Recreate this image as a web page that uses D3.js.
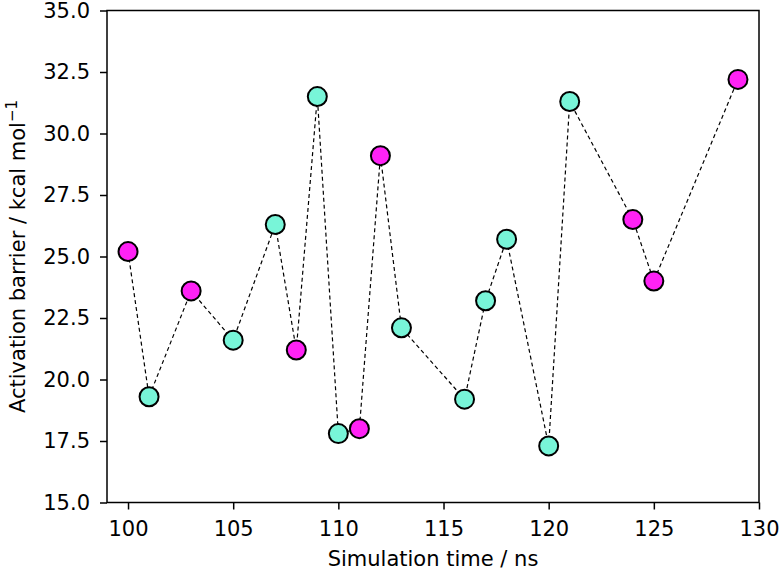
<!DOCTYPE html>
<html><head><meta charset="utf-8">
<script src="https://cdn.jsdelivr.net/npm/d3@7"></script>
<style>body{margin:0;background:#fff}svg{display:block}text{font-family:"DejaVu Sans",sans-serif;fill:#000}</style>
</head><body>
<svg id="c" width="782" height="574"></svg>
<script>
const times = [100,101,103,105,107,108,109,110,111,112,113,116,117,118,120,121,124,125,129];
const barriers = [25.2,19.3,23.6,21.6,26.3,21.2,31.5,17.8,18.0,29.1,22.1,19.2,23.2,25.7,17.3,31.3,26.5,24.0,32.2];
const groups = ["m","c","m","c","c","m","c","c","m","m","c","c","c","c","c","c","m","m","m"];
const xTicks = [100,105,110,115,120,125,130];
const yTicks = [15,17.5,20,22.5,25,27.5,30,32.5,35];
const colors = {m:"#ff22f5", c:"#78f5d8"};

const svg = d3.select("#c");
const L=107,R=759,T=10.5,B=502.5;
const x = d3.scaleLinear().domain([99,130]).range([L,R]);
const y = d3.scaleLinear().domain([15,35]).range([B,T]);

const gx = svg.append("g").attr("transform",`translate(0,${B})`)
  .call(d3.axisBottom(x).tickValues(xTicks).tickFormat(d3.format("d")).tickSize(7).tickPadding(12));
const gy = svg.append("g").attr("transform",`translate(${L},0)`)
  .call(d3.axisLeft(y).tickValues(yTicks).tickFormat(d3.format(".1f")).tickSize(7).tickPadding(10));
[gx,gy].forEach(g=>{g.select(".domain").remove();g.selectAll("line").attr("stroke","#000").attr("stroke-width",1.5);g.selectAll("text").style("font-size","21px").attr("fill","#000");});

svg.append("rect").attr("x",L).attr("y",T).attr("width",R-L).attr("height",B-T)
  .attr("fill","none").attr("stroke","#000").attr("stroke-width",1.5);

const line = d3.line().x((d,i)=>x(times[i])).y(d=>y(d));
svg.append("path").datum(barriers).attr("d",line).attr("fill","none")
  .attr("stroke","#000").attr("stroke-width",1.2).attr("stroke-dasharray","4,3");

svg.selectAll("circle.p").data(barriers).enter().append("circle")
  .attr("cx",(d,i)=>x(times[i])).attr("cy",d=>y(d)).attr("r",9.5)
  .attr("fill",(d,i)=>colors[groups[i]]).attr("stroke","#000").attr("stroke-width",2);

svg.append("text").attr("x",(L+R)/2).attr("y",566).attr("text-anchor","middle")
  .style("font-size","21px").text("Simulation time / ns");
const yl = svg.append("text").attr("transform",`translate(25,${(T+B)/2}) rotate(-90)`)
  .attr("text-anchor","middle").style("font-size","21px");
yl.append("tspan").text("Activation barrier / kcal mol");
yl.append("tspan").attr("dy",-8).style("font-size","15px").text("−1");
</script>
</body></html>
